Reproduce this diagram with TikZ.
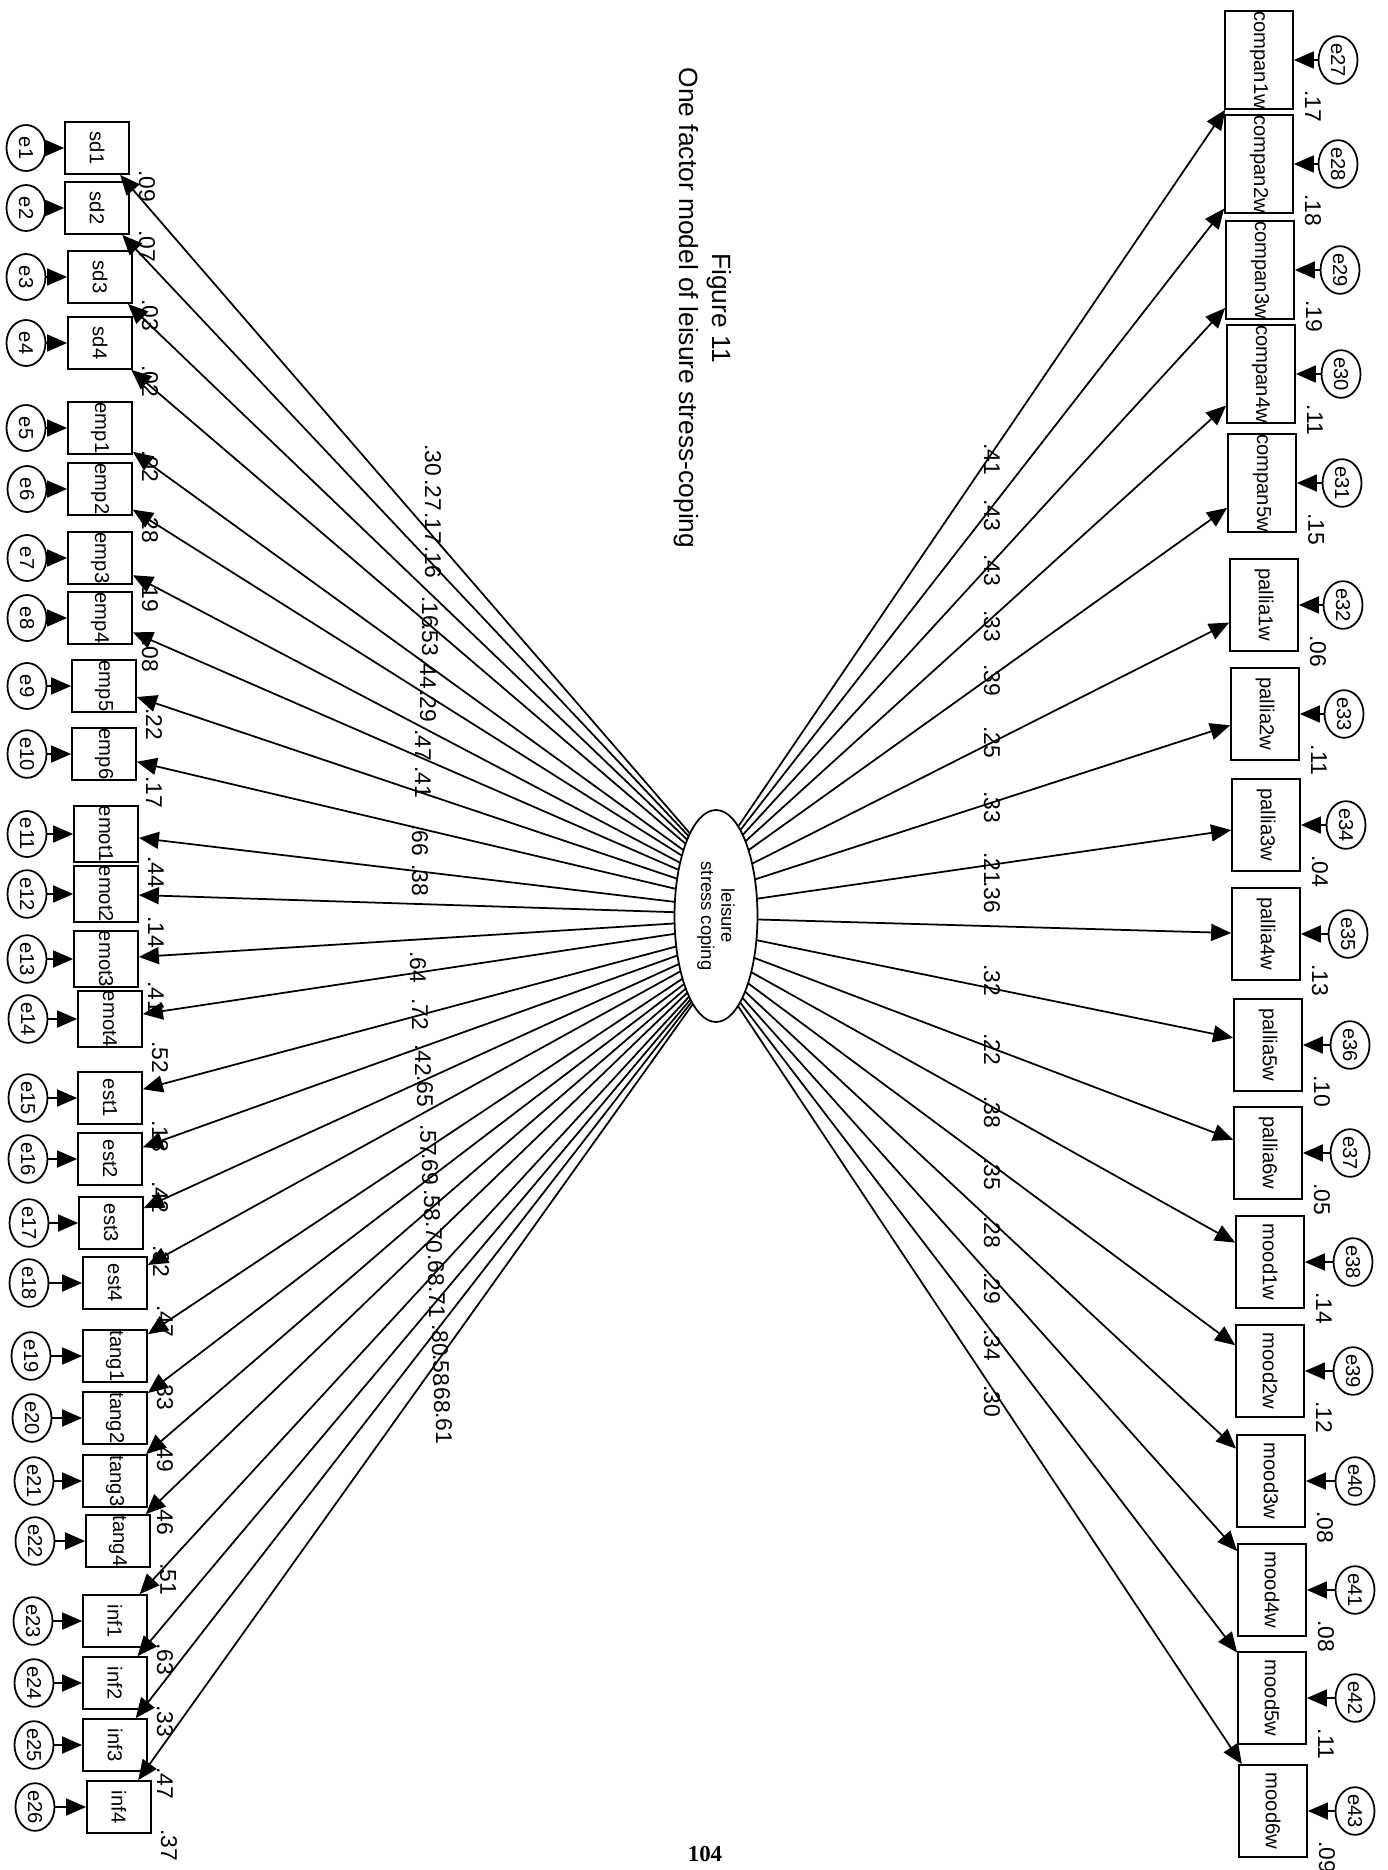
\documentclass[tikz,border=0pt]{standalone}
\usepackage{fontspec}
\setmainfont{Liberation Sans}
\newfontfamily\pagefont{Liberation Serif}
\usetikzlibrary{calc, arrows.meta, shapes.geometric}

\tikzset{
  obs/.style={draw, rectangle, rotate=-90, inner sep=0pt, line width=1pt,
    font=\fontsize{11.5}{13}\selectfont},
  lbox/.style={obs, minimum width=1.04cm, minimum height=1.28cm},
  rbox/.style={obs, minimum width=1.84cm, minimum height=1.36cm},
  err/.style={draw, ellipse, rotate=-90, inner sep=0pt, line width=1pt,
    minimum width=0.92cm, minimum height=0.78cm, font=\fontsize{11.5}{13}\selectfont},
  lat/.style={draw, ellipse, rotate=-90, fill=white, inner sep=0pt, line width=1pt,
    minimum width=4.24cm, minimum height=1.66cm, align=center,
    font=\fontsize{10.5}{11.5}\selectfont},
  path/.style={line width=1pt, -{Triangle[length=0.4cm, width=0.34cm]}},
  num/.style={rotate=-90, inner sep=0pt, font=\fontsize{13}{15}\selectfont}
}

\begin{document}
\begin{tikzpicture}[x=0.02cm, y=-0.02cm]
  \useasboundingbox (0,0) rectangle (1388,1870);

  \node[rotate=-90, align=center, font=\fontsize{15}{19}\selectfont] (title) at (703,308)
    {Figure 11\\One factor model of leisure stress-coping};

  % latent factor
  \node[lat] (lsc) at (716,916) {leisure\\stress coping};

  % left indicators: box / x / y / error / x / R2 / loading / label x / label y
  \foreach \b/\bx/\by/\e/\ex/\r/\l/\lx/\ly in {
      sd1/97/148/e1/26/.09/.30/433/460,
      sd2/97/208/e2/26/.07/.27/433/495,
      sd3/100/277/e3/26/.03/.17/433/528,
      sd4/100/343/e4/26/.02/.16/433/562,
      emp1/100/428/e5/26/.02/.16/430/612,
      emp2/100/489/e6/27/.28/.53/430/640,
      emp3/100/558/e7/27/.19/.44/428/673,
      emp4/100/618/e8/27/.08/.29/428/706,
      emp5/104/686/e9/27/.22/.47/423/745,
      emp6/104/754/e10/27/.17/.41/423/782,
      emot1/106/834/e11/27/.44/.66/420/840,
      emot2/106/894/e12/27/.14/.38/420/880,
      emot3/106/959/e13/27/.41/.64/418/967,
      emot4/110/1019/e14/28/.52/.72/420/1014,
      est1/110/1098/e15/28/.18/.42/423/1060,
      est2/110/1159/e16/28/.42/.65/425/1091,
      est3/111/1223/e17/29/.32/.57/428/1140,
      est4/115/1283/e18/29/.47/.69/430/1169,
      tang1/115/1356/e19/31/.33/.58/432/1205,
      tang2/115/1418/e20/32/.49/.70/434/1237,
      tang3/115/1481/e21/34/.46/.68/436/1270,
      tang4/118/1541/e22/35/.51/.71/437/1302,
      inf1/115/1621/e23/33/.63/.80/440/1340,
      inf2/115/1683/e24/34/.33/.58/441/1370,
      inf3/115/1745/e25/34/.47/.68/442/1397,
      inf4/119/1807/e26/35/.37/.61/444/1428} {
    \node[lbox] (\b) at (\bx,\by) {\b};
    \node[err] (\e) at (\ex,\by) {\e};
    \draw[path] (\e) -- (\b);
    \path let \p1 = ($(\b)-(lsc)$), \n1 = {atan2(\y1,\x1)} in
      coordinate (s\b) at ($(lsc)+(\n1:0.83cm and 2.12cm)$);
    \draw[path] (s\b) -- (\b);
    \node[num] at ($(\b)+(50,38)$) {\r};
    \node[num] at (\lx,\ly) {\l};
  }

  % right indicators
  \foreach \b/\bx/\by/\e/\ex/\r/\l/\lx/\ly in {
      compan1w/1259/60/e27/1338/.17/.41/992/459,
      compan2w/1259/164/e28/1338/.18/.43/992/515,
      compan3w/1260/270/e29/1340/.19/.43/992/570,
      compan4w/1261/374/e30/1341/.11/.33/992/626,
      compan5w/1262/483/e31/1342/.15/.39/992/680,
      pallia1w/1264/605/e32/1343/.06/.25/992/742,
      pallia2w/1265/714/e33/1344/.11/.33/992/807,
      pallia3w/1266/825/e34/1346/.04/.21/992/868,
      pallia4w/1266/934/e35/1348/.13/.36/992/897,
      pallia5w/1268/1045/e36/1350/.10/.32/992/980,
      pallia6w/1268/1153/e37/1350/.05/.22/992/1049,
      mood1w/1270/1262/e38/1353/.14/.38/992/1112,
      mood2w/1270/1371/e39/1353/.12/.35/992/1174,
      mood3w/1271/1481/e40/1355/.08/.28/992/1232,
      mood4w/1272/1590/e41/1355/.08/.29/992/1288,
      mood5w/1272/1698/e42/1355/.11/.34/992/1345,
      mood6w/1273/1811/e43/1355/.09/.30/992/1401} {
    \node[rbox] (\b) at (\bx,\by) {\b};
    \node[err] (\e) at (\ex,\by) {\e};
    \draw[path] (\e) -- (\b);
    \path let \p1 = ($(\b)-(lsc)$), \n1 = {atan2(\y1,\x1)} in
      coordinate (s\b) at ($(lsc)+(\n1:0.83cm and 2.12cm)$);
    \draw[path] (s\b) -- (\b);
    \node[num] at ($(\b)+(54,46)$) {\r};
    \node[num] at (\lx,\ly) {\l};
  }

  \node[font=\pagefont\bfseries\fontsize{13}{15}\selectfont] (pagenum) at (705,1854) {104};
\end{tikzpicture}
\end{document}
